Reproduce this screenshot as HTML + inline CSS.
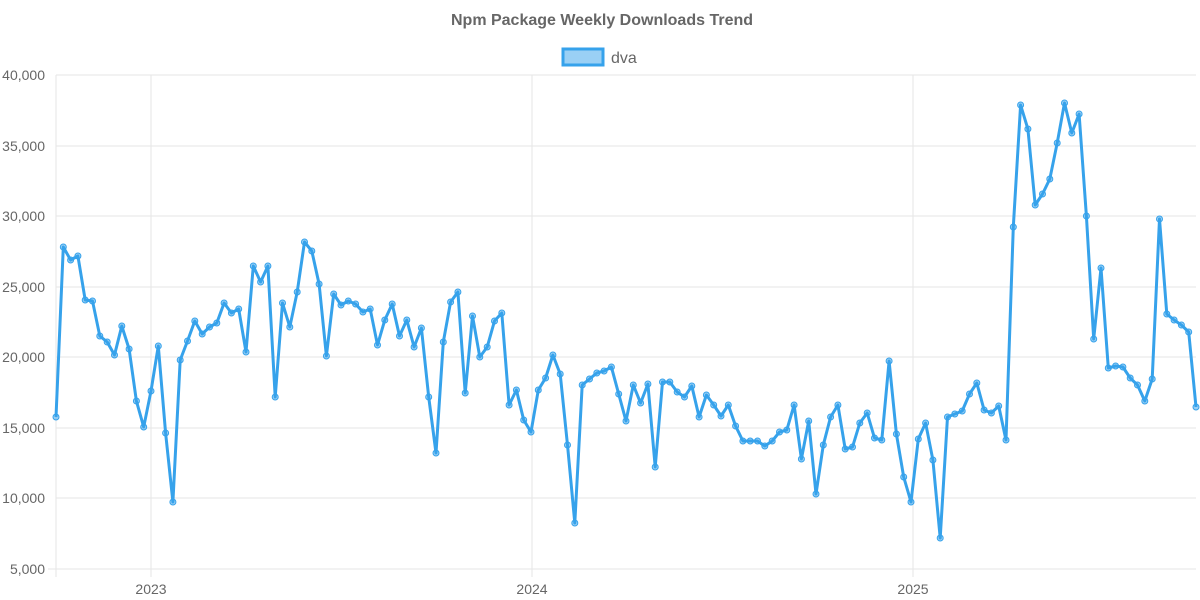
<!DOCTYPE html>
<html><head><meta charset="utf-8"><style>
html,body{margin:0;padding:0;background:#fff;}
svg{display:block;font-family:"Liberation Sans",sans-serif;}
</style></head><body>
<svg id="c" width="1200" height="600" xmlns="http://www.w3.org/2000/svg">
<text x="602" y="25" text-anchor="middle" font-size="16" font-weight="bold" fill="#666">Npm Package Weekly Downloads Trend</text>
<rect x="563" y="49" width="40" height="16" fill="rgba(54,162,235,0.5)" stroke="#36a2eb" stroke-width="3"/>
<text x="611" y="63" font-size="16" fill="#666">dva</text>
<g stroke="#e5e5e5" stroke-width="1">
<line x1="56" y1="75" x2="1196" y2="75"/><line x1="56" y1="146" x2="1196" y2="146"/>
<line x1="56" y1="216" x2="1196" y2="216"/><line x1="56" y1="287" x2="1196" y2="287"/>
<line x1="56" y1="357" x2="1196" y2="357"/><line x1="56" y1="428" x2="1196" y2="428"/>
<line x1="56" y1="498" x2="1196" y2="498"/><line x1="48" y1="569" x2="1196" y2="569"/>
<line x1="56" y1="75" x2="56" y2="577"/><line x1="151" y1="75" x2="151" y2="577"/>
<line x1="532" y1="75" x2="532" y2="577"/><line x1="913" y1="75" x2="913" y2="577"/>
</g>
<g font-size="14" fill="#666" text-anchor="end">
<text x="45" y="80">40,000</text><text x="45" y="151">35,000</text><text x="45" y="221">30,000</text>
<text x="45" y="292">25,000</text><text x="45" y="362">20,000</text><text x="45" y="433">15,000</text>
<text x="45" y="503">10,000</text><text x="45" y="574">5,000</text>
</g>
<g font-size="14" fill="#666" text-anchor="middle">
<text x="151" y="594">2023</text><text x="532" y="594">2024</text><text x="913" y="594">2025</text>
</g>
<polyline id="ln" fill="none" stroke="#36a2eb" stroke-width="3" stroke-linejoin="round"/>
<g id="pts" fill="rgba(54,162,235,0.5)" stroke="#36a2eb" stroke-width="1"></g>
</svg>
<script>
var ys=[417,247,260,256,300,301,336,342,355,326,349,401,427,391,346,433,502,360,341,321,334,327,323,303,313,309,352,266,282,266,397,303,327,292,242,251,284,356,294,305,301,304,312,309,345,320,304,336,320,347,328,397,453,342,302,292,393,316,357,347,321,313,405,390,420,432,390,378,355,374,445,523,385,379,373,371,367,394,421,385,403,384,467,382,382,392,397,386,417,395,405,416,405,426,441,441,441,446,441,432,430,405,459,421,494,445,417,405,449,447,423,413,438,440,361,434,477,502,439,423,460,538,417,414,411,394,383,410,413,406,440,227,105,129,205,194,179,143,103,133,114,216,339,268,368,366,367,378,385,401,379,219,314,320,325,332,407];
var n=ys.length,dx=(1196-56)/(n-1),p=[],g=document.getElementById('pts'),h='';
for(var i=0;i<n;i++){var x=56+i*dx;p.push(x.toFixed(1)+','+ys[i]);h+='<circle cx="'+x.toFixed(1)+'" cy="'+ys[i]+'" r="3"/>';}
document.getElementById('ln').setAttribute('points',p.join(' '));
g.innerHTML=h;
</script>
</body></html>
